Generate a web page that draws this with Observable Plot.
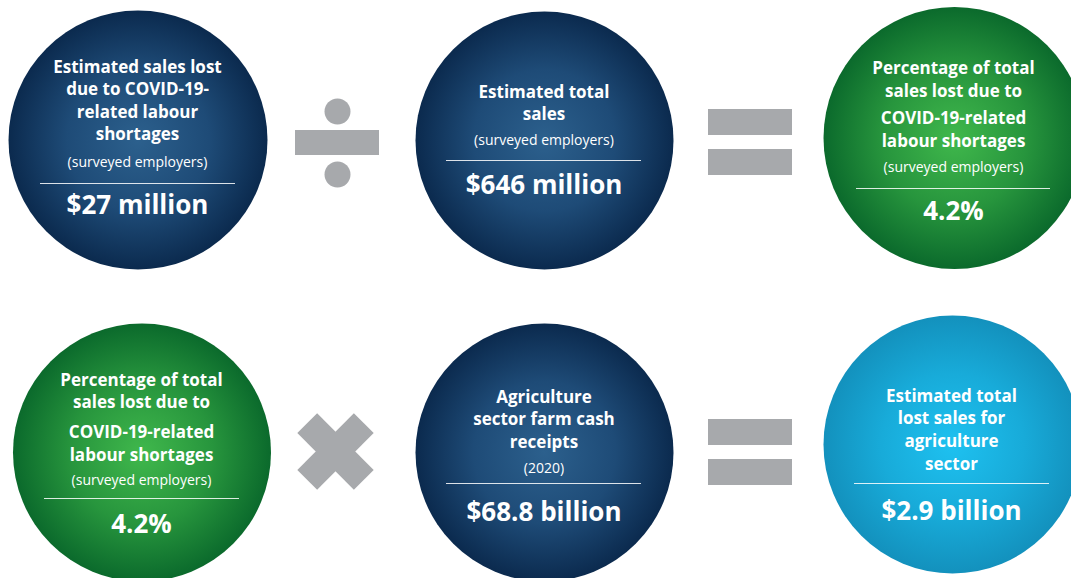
<!DOCTYPE html>
<html>
<head>
<meta charset="utf-8">
<script src="https://cdn.jsdelivr.net/npm/d3@7"></script>
<script src="https://cdn.jsdelivr.net/npm/@observablehq/plot@0.6"></script>
<style>
  html, body { margin: 0; padding: 0; background: #ffffff; }
  svg { display: block; }
</style>
</head>
<body>
<div id="chart"></div>
<script>
// ---------- data ----------
const titles = [
  ["Estimated sales lost", "due to COVID-19-", "related labour", "shortages"],
  ["Estimated total", "sales"],
  ["Percentage of total", "sales lost due to", "COVID-19-related", "labour shortages"],
  ["Percentage of total", "sales lost due to", "COVID-19-related", "labour shortages"],
  ["Agriculture", "sector farm cash", "receipts"],
  ["Estimated total", "lost sales for", "agriculture", "sector"]
];
const notes = ["(surveyed employers)", "(surveyed employers)", "(surveyed employers)", "(surveyed employers)", "(2020)", ""];
const values = ["$27 million", "$646 million", "4.2%", "4.2%", "$68.8 billion", "$2.9 billion"];
const themes = ["navy", "navy", "green", "green", "navy", "cyan"];
const operators = ["divide", "equals", "multiply", "equals"];

// ---------- layout (pixels) ----------
const layout = [
  {cx: 137.5, cy: 139.5, r: 129.5, tx: 137, lines: [72, 94.5, 117, 139], note: 166, rule: 183, rx: [40, 235], value: 213},
  {cx: 544, cy: 140, r: 129, tx: 543.5, lines: [97, 119], note: 144, rule: 160, rx: [446, 641], value: 193},
  {cx: 954, cy: 137.5, r: 131, tx: 953, lines: [73, 96, 123, 146], note: 171, rule: 188, rx: [856, 1050], value: 219},
  {cx: 141.5, cy: 452, r: 129, tx: 141, lines: [385, 407.5, 437, 460], note: 484, rule: 498, rx: [44, 239], value: 532},
  {cx: 544, cy: 452, r: 129, tx: 543.5, lines: [402, 424, 447], note: 472, rule: 483, rx: [446, 641], value: 520},
  {cx: 952, cy: 444, r: 129, tx: 951, lines: [401, 423, 446, 469], note: 0, rule: 483, rx: [854, 1049], value: 519}
];
const opPos = [
  {x: 337, y: 142},
  {x: 750, y: 142},
  {x: 335, y: 451},
  {x: 750, y: 452}
];
const gradients = {
  navy: ["#2c608d", "#1e4b77", "#0b2a4e"],
  green: ["#40b84c", "#27953d", "#0b6a2c"],
  cyan: ["#1ec1f0", "#18abd9", "#1391bd"]
};
const gray = "#a7a9ac";

// ---------- build tables ----------
const circles = layout.map((l, i) => ({...l, theme: themes[i]}));
const titleRows = titles.flatMap((t, i) => t.map((s, j) => ({text: s, x: layout[i].tx, y: layout[i].lines[j]})));
const noteRows = notes.map((s, i) => ({text: s, x: layout[i].tx, y: layout[i].note})).filter(d => d.text);
const ruleRows = layout.map(l => ({xa: l.rx[0], xb: l.rx[1], y: l.rule}));
const valueRows = values.map((s, i) => ({text: s, x: layout[i].tx, y: layout[i].value}));

// operator shapes
const bars = [];
const opDots = [];
const crossArms = [];
operators.forEach((op, i) => {
  const p = opPos[i];
  if (op === "divide") {
    bars.push({xa: p.x - 42, xb: p.x + 42, ya: p.y - 12, yb: p.y + 13});
    opDots.push({x: p.x, y: p.y - 31}, {x: p.x, y: p.y + 32});
  } else if (op === "equals") {
    bars.push({xa: p.x - 42, xb: p.x + 42, ya: p.y - 33, yb: p.y - 7});
    bars.push({xa: p.x - 42, xb: p.x + 42, ya: p.y + 7, yb: p.y + 33});
  } else if (op === "multiply") {
    const L = 40, W = 14;
    for (const a of [Math.PI / 4, -Math.PI / 4]) {
      const ux = Math.cos(a), uy = Math.sin(a), vx = -uy, vy = ux;
      crossArms.push([
        [p.x + ux * L + vx * W, p.y + uy * L + vy * W],
        [p.x + ux * L - vx * W, p.y + uy * L - vy * W],
        [p.x - ux * L - vx * W, p.y - uy * L - vy * W],
        [p.x - ux * L + vx * W, p.y - uy * L + vy * W]
      ]);
    }
  }
});
const armPts = crossArms.flatMap((arm, k) => arm.map(([x, y]) => ({x, y, k})));

const font = "'Open Sans', Lato, sans-serif";

const marks = [];
for (const t of ["navy", "green", "cyan"]) {
  marks.push(Plot.dot(circles.filter(d => d.theme === t), {x: "cx", y: "cy", r: "r", fill: `url(#grad-${t})`, stroke: "none"}));
}
marks.push(
  Plot.rect(bars, {x1: "xa", x2: "xb", y1: "ya", y2: "yb", fill: gray}),
  Plot.dot(opDots, {x: "x", y: "y", r: () => 13, fill: gray}),
  Plot.line(armPts, {x: "x", y: "y", z: "k", fill: gray, stroke: "none", curve: "linear-closed"}),
  Plot.ruleY(ruleRows, {x1: "xa", x2: "xb", y: "y", stroke: "#ffffff", strokeWidth: 1, strokeOpacity: 0.85}),
  Plot.text(titleRows, {x: "x", y: "y", text: "text", fill: "white", fontSize: 17, fontWeight: 700, fontFamily: font, lineAnchor: "bottom"}),
  Plot.text(noteRows, {x: "x", y: "y", text: "text", fill: "white", fontSize: 14, fontWeight: 400, fontFamily: font, lineAnchor: "bottom"}),
  Plot.text(valueRows, {x: "x", y: "y", text: "text", fill: "white", fontSize: 26, fontWeight: 700, fontFamily: font, lineAnchor: "bottom"})
);

const svg = Plot.plot({
  width: 1071,
  height: 578,
  margin: 0,
  x: {domain: [0, 1071], range: [0, 1071], axis: null},
  y: {domain: [0, 578], range: [0, 578], axis: null},
  r: {type: "identity"},
  style: {background: "#ffffff", overflow: "hidden"},
  marks
});

const defs = d3.select(svg).insert("defs", ":first-child");
for (const [name, stops] of Object.entries(gradients)) {
  const g = defs.append("radialGradient").attr("id", `grad-${name}`).attr("cx", "50%").attr("cy", "50%").attr("r", "50%");
  g.append("stop").attr("offset", "0%").attr("stop-color", stops[0]);
  g.append("stop").attr("offset", "55%").attr("stop-color", stops[1]);
  g.append("stop").attr("offset", "100%").attr("stop-color", stops[2]);
}

document.getElementById("chart").appendChild(svg);
</script>
</body>
</html>
